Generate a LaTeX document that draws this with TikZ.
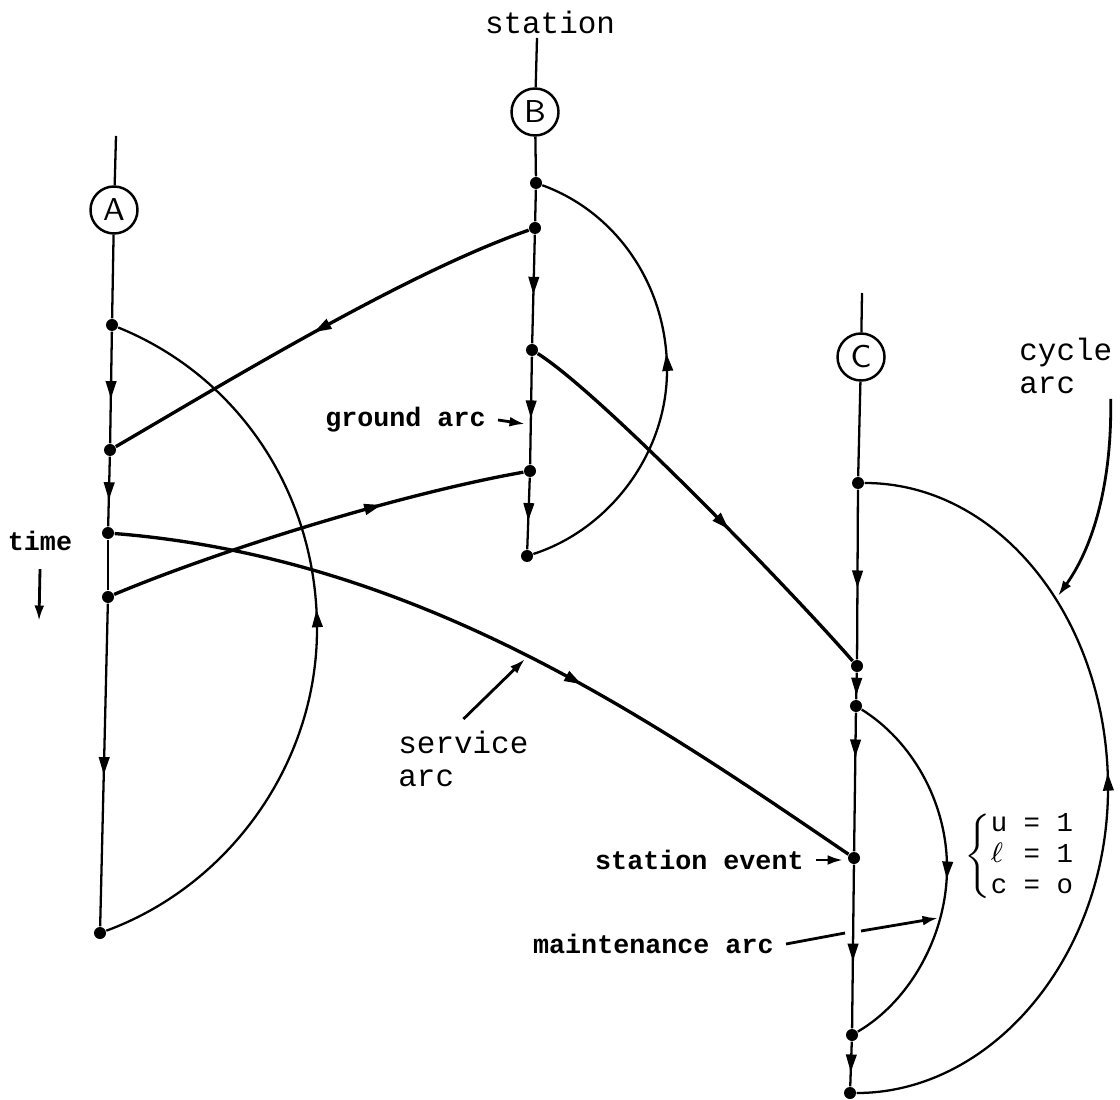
\documentclass[tikz,border=0pt]{standalone}
\usepackage{fontspec}
\usetikzlibrary{arrows.meta,decorations.markings}
\newfontfamily\tw{Liberation Mono}
\newcommand{\lblfont}{\tw\fontsize{8.8}{9.2}\selectfont}
\newcommand{\tagfont}{\tw\bfseries\fontsize{7.6}{8.6}\selectfont}

\begin{document}
\begin{tikzpicture}[x=0.1mm, y=-0.1mm,
    ev/.style={circle, fill, inner sep=0pt, minimum size=1.2mm},
    stn/.style={circle, draw, line width=0.7pt, inner sep=0pt, minimum size=4.7mm, font=\sffamily\fontsize{9}{9}\selectfont},
    gnd/.style={line width=0.65pt},
    svc/.style={line width=0.95pt},
    flow/.style={postaction={decorate}, decoration={markings, mark=at position #1 with {\arrow{Triangle[length=5pt,width=3pt]}}}},
    ptr/.style={line width=0.8pt, -{Latex[length=4.4pt,width=2.8pt]}}]
  \useasboundingbox (0,0) rectangle (1120,1100);

  % stations
  \node[font=\lblfont] (stlbl) at (550,22) {station};
  \coordinate (Atop) at (116,136);
  \coordinate (Btop) at (537,38);
  \coordinate (Ctop) at (862,293);
  \node[stn] (A) at (114,210) {A};
  \node[stn] (B) at (535,112) {B};
  \node[stn] (C) at (861,357) {C};

  % station events
  \node[ev] (a1) at (112,325) {};
  \node[ev] (a2) at (110,450) {};
  \node[ev] (a3) at (108,533) {};
  \node[ev] (a4) at (108,597) {};
  \node[ev] (a5) at (100,933) {};
  \node[ev] (b1) at (536,183) {};
  \node[ev] (b2) at (535,228) {};
  \node[ev] (b3) at (532,350) {};
  \node[ev] (b4) at (530,471) {};
  \node[ev] (b5) at (527,556) {};
  \node[ev] (c1) at (858,483) {};
  \node[ev] (c2) at (857,666) {};
  \node[ev] (c3) at (856,706) {};
  \node[ev] (c4) at (854,858) {};
  \node[ev] (c5) at (852,1035) {};
  \node[ev] (c6) at (850,1093) {};

  % ground arcs
  \draw[gnd] (Atop) -- (A) -- (a1);
  \draw[gnd, flow=0.6] (a1) -- (a2);
  \draw[gnd, flow=0.62] (a2) -- (a3);
  \draw[gnd] (a3) -- (a4);
  \draw[gnd, flow=0.53] (a4) -- (a5);
  \draw[gnd] (Btop) -- (B) -- (b1) -- (b2);
  \draw[gnd, flow=0.55] (b2) -- (b3);
  \draw[gnd, flow=0.57] (b3) -- (b4);
  \draw[gnd, flow=0.6] (b4) -- (b5);
  \draw[gnd, flow=0.58] (c1) -- (c2);
  \draw[gnd] (Ctop) -- (C) -- (c1);
  \draw[gnd, flow=0.85] (c2) -- (c3);
  \draw[gnd, flow=0.32] (c3) -- (c4);
  \draw[gnd, flow=0.59] (c4) -- (c5);
  \draw[gnd, flow=0.68] (c5) -- (c6);

  % cycle arcs
  \coordinate (rA) at (317,629);
  \coordinate (rB) at (667,370);
  \coordinate (rC) at (1108,788);
  \draw[gnd, flow=0.53] (a5) .. controls (228,886) and (317,765) .. (rA)
    .. controls (317,493) and (238,376) .. (a1);
  \draw[gnd, flow=0.54] (b5) .. controls (608,530) and (667,455) .. (rB)
    .. controls (667,285) and (616,212) .. (b1);
  \draw[gnd, flow=0.52] (c6) .. controls (992,1093) and (1108,956) .. (rC)
    .. controls (1108,620) and (1000,483) .. (c1);

  % maintenance arc
  \coordinate (rM) at (947,868);
  \draw[gnd, flow=0.52] (c3) .. controls (912,741) and (947,802) .. (rM)
    .. controls (947,935) and (910,1001) .. (c5);

  % service arcs
  \draw[svc, flow=0.51] (b2) .. controls (405,273) and (220,386) .. (a2);
  \draw[svc, flow=0.66] (a4) .. controls (220,550) and (400,494) .. (b4);
  \draw[svc, flow=0.61] (a3) .. controls (420,558) and (654,722) .. (c4);
  \draw[svc, flow=0.59] (b3) .. controls (602,394) and (797,597) .. (c2);

  % labels
  \node[font=\tagfont] (time) at (40,541) {time};
  \coordinate (timetip) at (39,621);
  \draw[ptr] ([yshift=-0.6mm]time.south) -- (timetip);

  \node[font=\tagfont, anchor=east] (glbl) at (498,420) {ground arc};
  \coordinate (gtip) at (525,424);
  \draw[ptr] (glbl.east) -- (gtip);

  \node[font=\lblfont, anchor=west, align=left] (slbl) at (386,759) {service\\arc};
  \coordinate (stip) at (525,659);
  \draw[ptr] (slbl.north) -- (stip);

  \node[font=\lblfont, anchor=west, align=left] (cyc) at (1007,366) {cycle\\arc};
  \coordinate (ctip) at (1058,596);
  \draw[ptr] ([xshift=-1.4mm, yshift=0.7mm]cyc.south east) .. controls (1112,470) and (1098,540) .. (ctip);

  \node[font=\tagfont, anchor=east] (evlbl) at (816,860) {station event};
  \coordinate (evtip) at (843,860);
  \draw[ptr] (evlbl.east) -- (evtip);

  \node[font=\tagfont, anchor=east] (mlbl) at (786,944) {maintenance arc};
  \coordinate (mgap1) at (845,933);
  \coordinate (mgap2) at (861,931);
  \coordinate (mtip) at (938,918);
  \draw[line width=0.8pt] (mlbl.east) -- (mgap1);
  \draw[ptr] (mgap2) -- (mtip);

  \node[anchor=west, font=\tw\fontsize{7.8}{8.8}\selectfont] (cost) at (952,856)
    {$\left\{\begin{tabular}{@{}l@{}}u = 1\\\makebox[0.6em][l]{$\ell$} = 1\\c = o\end{tabular}\right.$};
\end{tikzpicture}
\end{document}
